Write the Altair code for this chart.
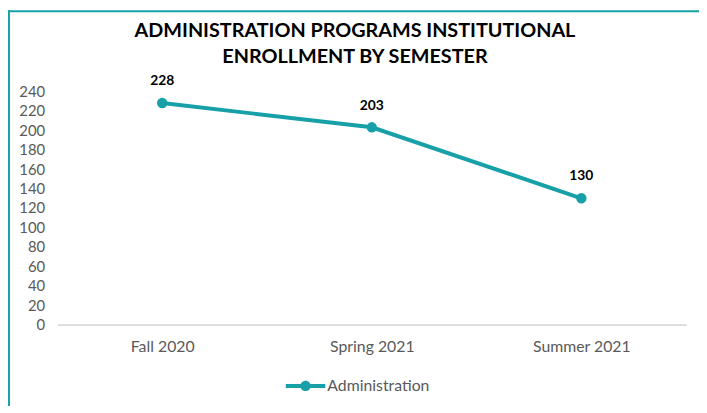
import altair as alt
import pandas as pd

title_lines = ["ADMINISTRATION PROGRAMS INSTITUTIONAL", "ENROLLMENT BY SEMESTER"]
semesters = ["Fall 2020", "Spring 2021", "Summer 2021"]
enrollment = [228, 203, 130]
series = ["Administration", "Administration", "Administration"]
y_ticks = list(range(0, 241, 20))

TEAL = "#17a0a8"
GRAY = "#595959"

df = pd.DataFrame({"Semester": semesters, "Enrollment": enrollment, "Series": series})

x = alt.X("Semester:N", sort=semesters,
          scale=alt.Scale(type="point", padding=0.5),
          axis=alt.Axis(title=None, labelAngle=0, domainColor="#d9d9d9", domainWidth=2,
                        ticks=False, labelPadding=14, labelFont="Lato", labelFontSize=16,
                        labelColor=GRAY, grid=False))
y = alt.Y("Enrollment:Q", scale=alt.Scale(domain=[0, 240], nice=False),
          axis=alt.Axis(title=None, values=y_ticks, domain=False, ticks=False, grid=False,
                        labelPadding=13, labelFont="Lato", labelFontSize=15, labelColor=GRAY))

legend_path = ("M-1,-0.1H1V0.1H-1Z "
               "M0.26,0A0.26,0.26 0 1,1 -0.26,0A0.26,0.26 0 1,1 0.26,0Z")

color = alt.Color("Series:N", scale=alt.Scale(range=[TEAL]),
                  legend=alt.Legend(title=None, orient="none", legendX=231, legendY=278,
                                    symbolType=legend_path, symbolSize=1600,
                                    symbolFillColor=TEAL, symbolStrokeColor=TEAL,
                                    symbolStrokeWidth=0, symbolOpacity=1,
                                    labelFont="Lato", labelFontSize=16, labelColor=GRAY,
                                    labelOffset=2))

base = alt.Chart(df)
line = base.mark_line(strokeWidth=4).encode(x=x, y=y, color=color)
points = base.mark_point(filled=True, size=110, opacity=1).encode(x=x, y=y, color=color)
labels = base.mark_text(dy=-22, fontWeight="bold", fontSize=14, font="Lato",
                        color="black").encode(x=x, y=y, text="Enrollment:Q")

one = pd.DataFrame({"k": [0]})
top_border = alt.Chart(one).mark_rule(color=TEAL, strokeWidth=2).encode(
    x=alt.value(-50), x2=alt.value(700), y=alt.value(-81))
left_border = alt.Chart(one).mark_rule(color=TEAL, strokeWidth=2).encode(
    x=alt.value(-49), y=alt.value(-82), y2=alt.value(400))

title_style = dict(font="Lato", fontSize=20, fontWeight="bold",
                   color="black", align="center", baseline="middle")
title1 = alt.Chart(one).mark_text(text=title_lines[0], **title_style).encode(
    x=alt.value(301), y=alt.value(-61))
title2 = alt.Chart(one).mark_text(text=title_lines[1], **title_style).encode(
    x=alt.value(301), y=alt.value(-35))

chart = alt.layer(top_border, left_border, title1, title2, line, points, labels).properties(
    width=636, height=236,
    autosize=alt.AutoSizeParams(type="none"),
    padding={"left": 50, "top": 82, "right": 13, "bottom": 80},
).configure_view(stroke=None)

chart.save("out.html", embed_options={"renderer": "svg", "actions": False})
